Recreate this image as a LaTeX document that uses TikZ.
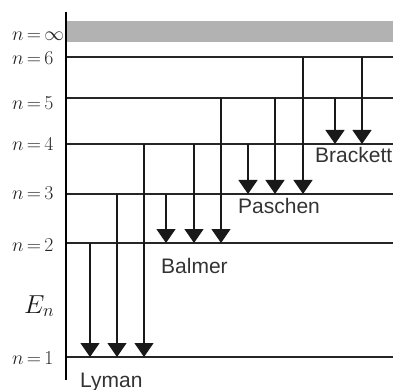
\RequirePackage{fix-cm}
\documentclass[tikz,border=0pt]{standalone}
\usepackage{fontspec}
\newfontfamily\labelfont{Liberation Sans}
\usetikzlibrary{arrows.meta}
\begin{document}
\begin{tikzpicture}[x=1pt,y=-1pt,
  level/.style={line width=1.3pt, black!85},
  axisline/.style={line width=2pt, black},
  trans/.style={line width=1.3pt, black!90, -{Triangle[width=19pt,length=14pt]}},
  nlab/.style={anchor=base west, inner sep=0pt, font=\fontsize{19.7}{22}\selectfont, text=black!85},
  elab/.style={anchor=base west, inner sep=0pt, font=\fontsize{26}{28}\selectfont, text=black!90},
  series/.style={anchor=base west, inner sep=0pt, font=\labelfont\fontsize{21}{24}\selectfont, text=black!80}]
\useasboundingbox (0,0) rectangle (396,390);
% continuum band
\fill[black!30] (67,21) rectangle (393,42);
% energy levels
\foreach \n/\y in {6/57,5/98,4/144,3/194,2/243,1/357} {
  \coordinate (L\n w) at (67,\y);
  \coordinate (L\n e) at (393,\y);
  \draw[level] (L\n w) -- (L\n e);
}
% axis
\coordinate (axtop) at (66,12);
\coordinate (axbot) at (66,380);
\draw[axisline] (axtop) -- (axbot);
% level labels
\node[nlab] (ninf) at (12,41) {$n\,{=}\,\infty$};
\node[nlab] (n6) at (12,64.3) {$n\,{=}\,6$};
\node[nlab] (n5) at (12,110) {$n\,{=}\,5$};
\node[nlab] (n4) at (12,150.7) {$n\,{=}\,4$};
\node[nlab] (n3) at (12,200) {$n\,{=}\,3$};
\node[nlab] (n2) at (12,251) {$n\,{=}\,2$};
\node[nlab] (n1) at (12,364) {$n\,{=}\,1$};
\node[elab] (En) at (24,313) {$E_n$};
% transitions: x / start y / end y
\foreach \i/\x/\ys/\ye in {
  1/90/243/357, 2/117/194/357, 3/144/144/357,
  4/166/194/243, 5/194/144/243, 6/221/98/243,
  7/248/144/194, 8/275/98/194, 9/303/57/194,
  10/335/98/144, 11/362/57/144} {
  \coordinate (s\i) at (\x,\ys);
  \coordinate (e\i) at (\x,\ye);
  \draw[trans] (s\i) -- (e\i);
}
% series labels
\node[series] (lyman) at (80,387) {Lyman};
\node[series] (balmer) at (161,273) {Balmer};
\node[series] (paschen) at (238,214) {Paschen};
\node[series] (brackett) at (315,163) {Brackett};
\end{tikzpicture}
\end{document}
